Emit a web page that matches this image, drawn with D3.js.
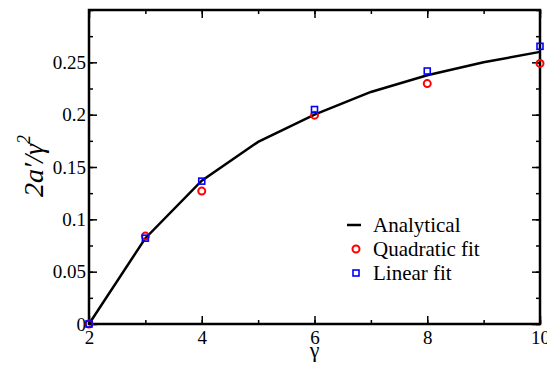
<!DOCTYPE html>
<html>
<head>
<meta charset="utf-8">
<script src="https://cdn.jsdelivr.net/npm/d3@7"></script>
<style>
  body { margin: 0; background: #fff; }
</style>
</head>
<body>
<div id="chart"></div>
<script>
const gammaAnalytical = [2, 3, 4, 5, 6, 7, 8, 9, 10];
const analytical = [0, 0.082, 0.137, 0.174, 0.2, 0.2217, 0.2376, 0.25, 0.26];
const gammaFit = [2, 3, 4, 6, 8, 10];
const quadraticFit = [0, 0.084, 0.127, 0.1995, 0.2297, 0.249];
const linearFit = [0, 0.082, 0.1365, 0.2049, 0.2417, 0.2653];
const xTicks = [2, 4, 6, 8, 10];
const yTicks = [0, 0.05, 0.1, 0.15, 0.2, 0.25];
const yTickLabels = ['0', '0.05', '0.1', '0.15', '0.2', '0.25'];
const legendLabels = ['Analytical', 'Quadratic fit', 'Linear fit'];

const WIDTH = 547;
const HEIGHT = 365;
const LEFT = 89;
const RIGHT = 540;
const TOP = 10;
const BOTTOM = 324;
const SERIF = 'Liberation Serif';

const svg = d3.select('#chart').append('svg')
  .attr('width', WIDTH)
  .attr('height', HEIGHT)
  .attr('font-family', SERIF);

const xScale = d3.scaleLinear().domain([2, 10]).range([LEFT, RIGHT]);
const yScale = d3.scaleLinear().domain([0, 0.3]).range([BOTTOM, TOP]);

// ticks, pointing inward on all four sides
const addAxis = (axis, transform) => {
  const g = svg.append('g').attr('transform', transform).call(axis);
  g.attr('font-family', SERIF).attr('font-size', 19);
  g.select('.domain').remove();
  g.selectAll('line').attr('stroke', '#000').attr('stroke-width', 1.5);
  g.selectAll('text').attr('fill', '#000');
  return g;
};

const xMinor = d3.range(2, 10.01, 1);
const yMinor = d3.range(0, 0.3001, 0.025);

addAxis(d3.axisBottom(xScale).tickValues(xMinor).tickSize(-4).tickFormat(''), `translate(0,${BOTTOM})`);
addAxis(d3.axisTop(xScale).tickValues(xMinor).tickSize(-4).tickFormat(''), `translate(0,${TOP})`);
addAxis(d3.axisLeft(yScale).tickValues(yMinor).tickSize(-4).tickFormat(''), `translate(${LEFT},0)`);
addAxis(d3.axisRight(yScale).tickValues(yMinor).tickSize(-4).tickFormat(''), `translate(${RIGHT},0)`);

addAxis(
  d3.axisBottom(xScale).tickValues(xTicks).tickSize(-8).tickPadding(7).tickFormat(d3.format('d')),
  `translate(0,${BOTTOM})`
);
addAxis(d3.axisTop(xScale).tickValues(xTicks).tickSize(-8).tickFormat(''), `translate(0,${TOP})`);
addAxis(
  d3.axisLeft(yScale).tickValues(yTicks).tickSize(-8).tickPadding(3).tickFormat((d, i) => yTickLabels[i]),
  `translate(${LEFT},0)`
);
addAxis(d3.axisRight(yScale).tickValues(yTicks).tickSize(-8).tickFormat(''), `translate(${RIGHT},0)`);

// frame
svg.append('rect')
  .attr('x', LEFT).attr('y', TOP)
  .attr('width', RIGHT - LEFT).attr('height', BOTTOM - TOP)
  .attr('fill', 'none').attr('stroke', '#000').attr('stroke-width', 2.5);

// analytical curve
const line = d3.line().x((d, i) => xScale(gammaAnalytical[i])).y((d) => yScale(d));
svg.append('path')
  .datum(analytical)
  .attr('d', line)
  .attr('fill', 'none')
  .attr('stroke', '#000')
  .attr('stroke-width', 2.5);

// quadratic fit circles
svg.append('g')
  .selectAll('circle')
  .data(quadraticFit)
  .join('circle')
  .attr('cx', (d, i) => xScale(gammaFit[i]))
  .attr('cy', (d) => yScale(d))
  .attr('r', 3.5)
  .attr('fill', 'none')
  .attr('stroke', '#ff0000')
  .attr('stroke-width', 2);

// linear fit squares
svg.append('g')
  .selectAll('rect')
  .data(linearFit)
  .join('rect')
  .attr('x', (d, i) => xScale(gammaFit[i]) - 3)
  .attr('y', (d) => yScale(d) - 3)
  .attr('width', 6)
  .attr('height', 6)
  .attr('fill', 'none')
  .attr('stroke', '#0000ff')
  .attr('stroke-width', 1.6);

// axis titles
svg.append('text')
  .attr('x', xScale(6))
  .attr('y', 357)
  .attr('text-anchor', 'middle')
  .attr('font-family', SERIF)
  .attr('font-size', 22)
  .text('γ');

const yTitle = svg.append('text')
  .attr('transform', 'translate(43,166) rotate(-90)')
  .attr('text-anchor', 'middle')
  .attr('font-family', SERIF)
  .attr('font-size', 28)
  .attr('font-style', 'italic');
yTitle.append('tspan').text('2a′/γ');
yTitle.append('tspan').attr('dy', -13).attr('font-size', 18).text('2');

// legend
const legend = svg.append('g').attr('transform', 'translate(347,225)');
const rowGap = 24;
legend.append('line')
  .attr('x1', 0).attr('x2', 14).attr('y1', 0).attr('y2', 0)
  .attr('stroke', '#000').attr('stroke-width', 2.5);
legend.append('circle')
  .attr('cx', 9).attr('cy', rowGap).attr('r', 3.5)
  .attr('fill', 'none').attr('stroke', '#ff0000').attr('stroke-width', 2);
legend.append('rect')
  .attr('x', 6).attr('y', rowGap * 2 - 3).attr('width', 6).attr('height', 6)
  .attr('fill', 'none').attr('stroke', '#0000ff').attr('stroke-width', 1.6);
legend.selectAll('text.label')
  .data(legendLabels)
  .join('text')
  .attr('class', 'label')
  .attr('x', 26)
  .attr('y', (d, i) => i * rowGap + 7)
  .attr('font-family', SERIF)
  .attr('font-size', 21)
  .text((d) => d);
</script>
</body>
</html>
